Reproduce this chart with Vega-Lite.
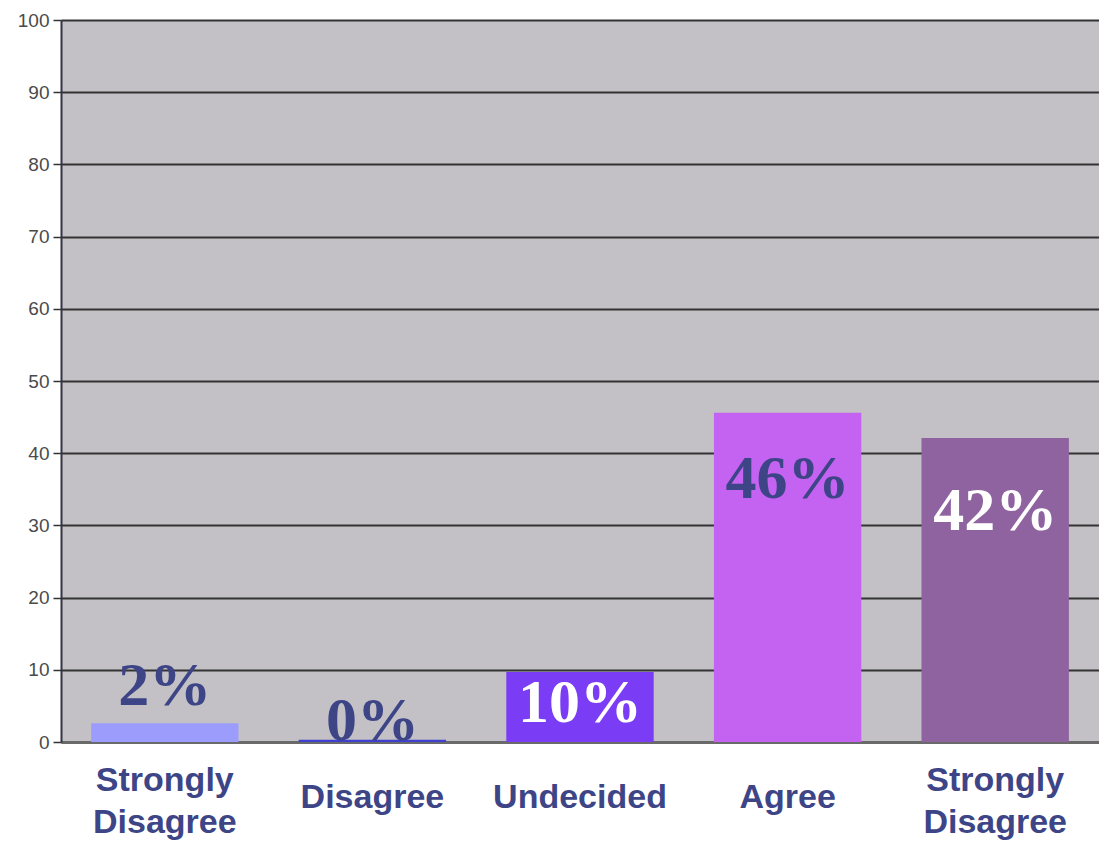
{
  "$schema": "https://vega.github.io/schema/vega-lite/v6.json",
  "autosize": "none",
  "width": 1038,
  "height": 722,
  "padding": {"left": 61, "top": 20, "right": 0, "bottom": 101},
  "background": "white",
  "config": {
    "view": {"fill": "#c3c1c5", "stroke": null},
    "axis": {"labelFont": "Liberation Sans"}
  },
  "data": {
    "values": [
      {"category": "Strongly Disagree", "value": 2.6, "pct": "2%"},
      {"category": "Disagree", "value": 0.3, "pct": "0%"},
      {"category": "Undecided", "value": 9.7, "pct": "10%"},
      {"category": "Agree", "value": 45.6, "pct": "46%"},
      {"category": "Strongly Disagree #2", "value": 42.1, "pct": "42%"}
    ]
  },
  "encoding": {
    "x": {
      "field": "category",
      "type": "nominal",
      "sort": null,
      "scale": {"paddingInner": 0.29, "paddingOuter": 0.145},
      "axis": {
        "title": null,
        "labelAngle": 0,
        "ticks": false,
        "labelPadding": {"condition": {"test": "indexof(datum.label, 'Strongly') >= 0", "value": 38}, "value": 55},
        "labelBaseline": "middle",
        "labelFontSize": 34,
        "labelFontWeight": "bold",
        "labelColor": "#3d4587",
        "labelLineHeight": 42,
        "labelExpr": "split(replace(datum.label, ' #2', ''), ' ')",
        "domainColor": "#6a6a6a",
        "domainWidth": 3
      }
    },
    "y": {
      "field": "value",
      "type": "quantitative",
      "scale": {"domain": [0, 100], "nice": false},
      "axis": {
        "title": null,
        "values": [0, 10, 20, 30, 40, 50, 60, 70, 80, 90, 100],
        "grid": true,
        "gridColor": "#333333",
        "gridWidth": 2,
        "gridOpacity": 1,
        "tickColor": "#333333",
        "tickSize": 8,
        "tickWidth": 1.5,
        "labelPadding": 4,
        "labelFontSize": 19,
        "labelColor": "#4a4a4a",
        "domainColor": "#333344",
        "domainWidth": 2
      }
    }
  },
  "layer": [
    {
      "mark": {"type": "bar"},
      "encoding": {
        "color": {
          "field": "category",
          "type": "nominal",
          "legend": null,
          "scale": {
            "domain": ["Strongly Disagree", "Disagree", "Undecided", "Agree", "Strongly Disagree #2"],
            "range": ["#9c9cfc", "#4040d0", "#7a3cf5", "#c462f2", "#8e63a0"]
          }
        }
      }
    },
    {
      "transform": [{"filter": "datum.category == 'Strongly Disagree'"}],
      "mark": {"type": "text", "font": "Liberation Serif", "fontWeight": "bold", "fontSize": 62, "color": "#3d4587", "baseline": "alphabetic", "dy": -18},
      "encoding": {"text": {"field": "pct"}}
    },
    {
      "transform": [{"filter": "datum.category == 'Disagree'"}],
      "mark": {"type": "text", "font": "Liberation Serif", "fontWeight": "bold", "fontSize": 62, "color": "#3d4587", "baseline": "alphabetic", "dy": 0},
      "encoding": {"text": {"field": "pct"}}
    },
    {
      "transform": [{"filter": "datum.category == 'Undecided'"}],
      "mark": {"type": "text", "font": "Liberation Serif", "fontWeight": "bold", "fontSize": 62, "color": "white", "baseline": "alphabetic", "dy": 50},
      "encoding": {"text": {"field": "pct"}}
    },
    {
      "transform": [{"filter": "datum.category == 'Agree'"}],
      "mark": {"type": "text", "font": "Liberation Serif", "fontWeight": "bold", "fontSize": 62, "color": "#3d4587", "baseline": "alphabetic", "dy": 85},
      "encoding": {"text": {"field": "pct"}}
    },
    {
      "transform": [{"filter": "datum.category == 'Strongly Disagree #2'"}],
      "mark": {"type": "text", "font": "Liberation Serif", "fontWeight": "bold", "fontSize": 62, "color": "white", "baseline": "alphabetic", "dy": 92},
      "encoding": {"text": {"field": "pct"}}
    }
  ]
}
